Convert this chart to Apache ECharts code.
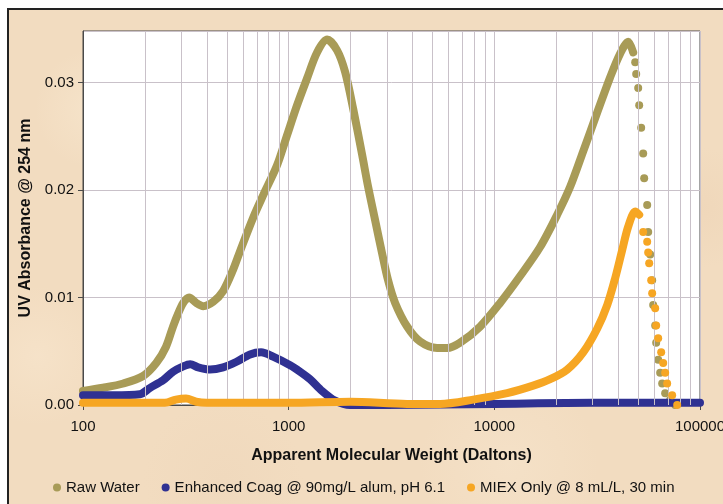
<!DOCTYPE html>
<html>
<head>
<meta charset="utf-8">
<script src="https://cdn.jsdelivr.net/npm/echarts@6/dist/echarts.min.js"></script>
<style>
  html, body { margin: 0; padding: 0; background: #fff; overflow: hidden; }
  #paper {
    position: absolute; left: 7px; top: 8px; width: 716px; height: 496px;
    border-top: 2px solid #222; border-left: 2px solid #222; box-sizing: border-box;
    background-color: #f2dcc0;
    background-image:
      radial-gradient(circle at 12% 20%, rgba(248,232,208,0.6) 0, rgba(248,232,208,0) 60px),
      radial-gradient(circle at 70% 92%, rgba(246,228,204,0.6) 0, rgba(246,228,204,0) 90px),
      radial-gradient(circle at 97% 40%, rgba(238,212,182,0.6) 0, rgba(238,212,182,0) 60px),
      radial-gradient(circle at 30% 95%, rgba(238,214,186,0.5) 0, rgba(238,214,186,0) 80px),
      radial-gradient(circle at 4% 70%, rgba(248,230,206,0.6) 0, rgba(248,230,206,0) 70px);
  }
  #chart { position: absolute; left: 0; top: 0; width: 723px; height: 504px; }
</style>
</head>
<body>
<div id="paper"></div>
<div id="chart"></div>
<script>
// 坐标轴刻度
var xTicks = [100, 1000, 10000, 100000]
var xMinorGrid = [200, 300, 400, 500, 600, 700, 800, 900,
  2000, 3000, 4000, 5000, 6000, 7000, 8000, 9000,
  20000, 30000, 40000, 50000, 60000, 70000, 80000, 90000]

// Raw Water - dense part (line) and the sparse falling part (dots)
var rawMW = [100, 125, 157, 196, 227, 253, 274, 290, 307, 328, 355, 384, 429, 480, 537, 580, 671, 751, 878, 982,
  1099, 1229, 1374, 1538, 1720, 1881, 2057, 2275, 2434, 2632, 2847, 3044, 3293, 3766, 4357, 5270, 5894, 6820,
  8530, 10670, 13350, 16700, 20210, 23370, 27040, 31620, 36580, 40910, 44760, 47340]
var rawUV = [0.0013, 0.0016, 0.0020, 0.0027, 0.0039, 0.0054, 0.0073, 0.0085, 0.0095, 0.0100, 0.0095, 0.0092, 0.0096, 0.0106, 0.0126, 0.0143, 0.0174, 0.0195, 0.0223, 0.0251,
  0.0279, 0.0304, 0.0328, 0.0340, 0.0330, 0.0310, 0.0276, 0.0233, 0.0203, 0.0172, 0.0141, 0.0116, 0.0095, 0.0073, 0.0059, 0.0053, 0.0053, 0.0058,
  0.0073, 0.0095, 0.0120, 0.0147, 0.0177, 0.0203, 0.0236, 0.0272, 0.0305, 0.0327, 0.0338, 0.0328]
var rawTailMW = [48410, 48950, 50060, 50620, 51760, 52930, 53530, 55360, 55980, 57250, 58540, 59200, 60540, 61220, 62610, 64020, 65470, 67700, 71610, 75760]
var rawTailUV = [0.0319, 0.0308, 0.0295, 0.0279, 0.0258, 0.0234, 0.0211, 0.0186, 0.0161, 0.0140, 0.0116, 0.0093, 0.0074, 0.0058, 0.0042, 0.0030, 0.0020, 0.0011, 0.0005, 0.0000]

// Enhanced Coag
var coagMW = [100, 140, 189, 212, 245, 274, 307, 332, 363, 415, 480, 555, 649, 734, 840, 1016, 1136, 1271, 1454, 1682, 1989, 3000, 10000, 30000, 100000]
var coagUV = [0.0009, 0.0009, 0.0010, 0.0016, 0.0023, 0.0031, 0.0036, 0.0038, 0.0035, 0.0033, 0.0035, 0.0040, 0.0047, 0.0049, 0.0045, 0.0037, 0.0031, 0.0024, 0.0013, 0.0004, 0.0000, 0.0000, 0.0001, 0.0002, 0.0002]

// MIEX Only
var miexMW = [100, 250, 283, 317, 355, 400, 1000, 2000, 3766, 5450, 7886, 11540, 15440, 18680, 22610, 27040, 31620, 35380, 38680, 41830, 44760, 48410, 50620]
var miexUV = [0.0002, 0.0002, 0.0005, 0.0006, 0.0003, 0.0002, 0.0002, 0.0003, 0.0001, 0.0001, 0.0005, 0.0011, 0.0018, 0.0024, 0.0033, 0.0049, 0.0071, 0.0093, 0.0118, 0.0144, 0.0166, 0.0180, 0.0177]
var miexTailMW = [52930, 55360, 55980, 56610, 57900, 58540, 60540, 61220, 62610, 64750, 66220, 67700, 69240, 73210, 77460]
var miexTailUV = [0.0161, 0.0152, 0.0142, 0.0132, 0.0116, 0.0104, 0.0090, 0.0074, 0.0062, 0.0049, 0.0039, 0.0030, 0.0020, 0.0009, 0.0000]

function zip(xs, ys) {
  return xs.map(function (x, i) { return [x, ys[i]] })
}

var cRaw = '#a89b57'
var cCoag = '#2f3192'
var cMiex = '#f6a623'
var font = 'Liberation Sans, Arial, sans-serif'

var myChart = echarts.init(document.getElementById('chart'))

var option = {
  animation: false,
  backgroundColor: 'transparent',
  grid: {
    left: 83, right: 23, top: 31, bottom: 99,
    outerBoundsMode: 'none', containLabel: false,
    show: true, backgroundColor: '#fff', borderColor: '#4a4a4a', borderWidth: 1
  },
  legend: {
    left: 48, top: 475,
    icon: 'circle', itemWidth: 8, itemHeight: 8, itemGap: 22,
    textStyle: { fontSize: 15, color: '#111', fontFamily: font },
    data: ['Raw Water', 'Enhanced Coag @ 90mg/L alum, pH 6.1', 'MIEX Only @ 8 mL/L, 30 min']
  },
  xAxis: {
    type: 'log', logBase: 10, min: 100, max: 100000,
    name: 'Apparent Molecular Weight (Daltons)',
    nameLocation: 'middle', nameGap: 43,
    nameTextStyle: { fontSize: 16, fontWeight: 'bold', color: '#111', fontFamily: font },
    axisLine: { lineStyle: { color: '#4a4a4a', width: 1 } },
    axisTick: { show: true, length: 5, lineStyle: { color: '#4a4a4a' } },
    axisLabel: {
      margin: 14, fontSize: 15, color: '#111', fontFamily: font,
      formatter: function (v) { return String(Math.round(v)) }
    },
    splitLine: { show: true, lineStyle: { color: '#c9c1c9', width: 1 } }
  },
  yAxis: {
    type: 'value', min: 0, max: 0.0348, interval: 0.01,
    name: 'UV Absorbance @ 254 nm',
    nameLocation: 'middle', nameGap: 46,
    nameTextStyle: { fontSize: 16, fontWeight: 'bold', color: '#111', fontFamily: font },
    axisLine: { show: true, lineStyle: { color: '#4a4a4a', width: 1 } },
    axisTick: { show: true, length: 5, lineStyle: { color: '#4a4a4a' } },
    axisLabel: {
      margin: 9, fontSize: 15, color: '#111', fontFamily: font, showMaxLabel: false,
      formatter: function (v) { return v.toFixed(2) }
    },
    splitLine: { show: true, lineStyle: { color: '#c9c1c9', width: 1 } }
  },
  series: [
    {
      // 次刻度网格线
      name: 'grid', type: 'line', data: [[100, 0]], symbol: 'none',
      lineStyle: { opacity: 0 }, silent: true, z: 1,
      markLine: {
        silent: true, symbol: 'none', label: { show: false },
        lineStyle: { color: '#c9c1c9', width: 1, type: 'solid' },
        data: xMinorGrid.map(function (v) { return { xAxis: v } })
      }
    },
    {
      name: 'Raw Water', type: 'line', data: zip(rawMW, rawUV), smooth: 0.3,
      symbol: 'none', z: 3,
      itemStyle: { color: cRaw },
      lineStyle: { color: cRaw, width: 8, cap: 'round', join: 'round' }
    },
    {
      name: 'Raw Water', type: 'scatter', data: zip(rawTailMW, rawTailUV),
      symbol: 'circle', symbolSize: 8, z: 3,
      itemStyle: { color: cRaw, opacity: 1 }
    },
    {
      name: 'Enhanced Coag @ 90mg/L alum, pH 6.1', type: 'line', data: zip(coagMW, coagUV), smooth: 0.3,
      symbol: 'none', z: 4,
      itemStyle: { color: cCoag },
      lineStyle: { color: cCoag, width: 8, cap: 'round', join: 'round' }
    },
    {
      name: 'MIEX Only @ 8 mL/L, 30 min', type: 'line', data: zip(miexMW, miexUV), smooth: 0.3,
      symbol: 'none', z: 5,
      itemStyle: { color: cMiex },
      lineStyle: { color: cMiex, width: 8, cap: 'round', join: 'round' }
    },
    {
      name: 'MIEX Only @ 8 mL/L, 30 min', type: 'scatter', data: zip(miexTailMW, miexTailUV),
      symbol: 'circle', symbolSize: 8, z: 5,
      itemStyle: { color: cMiex, opacity: 1 }
    }
  ]
}

myChart.setOption(option)
</script>
</body>
</html>
